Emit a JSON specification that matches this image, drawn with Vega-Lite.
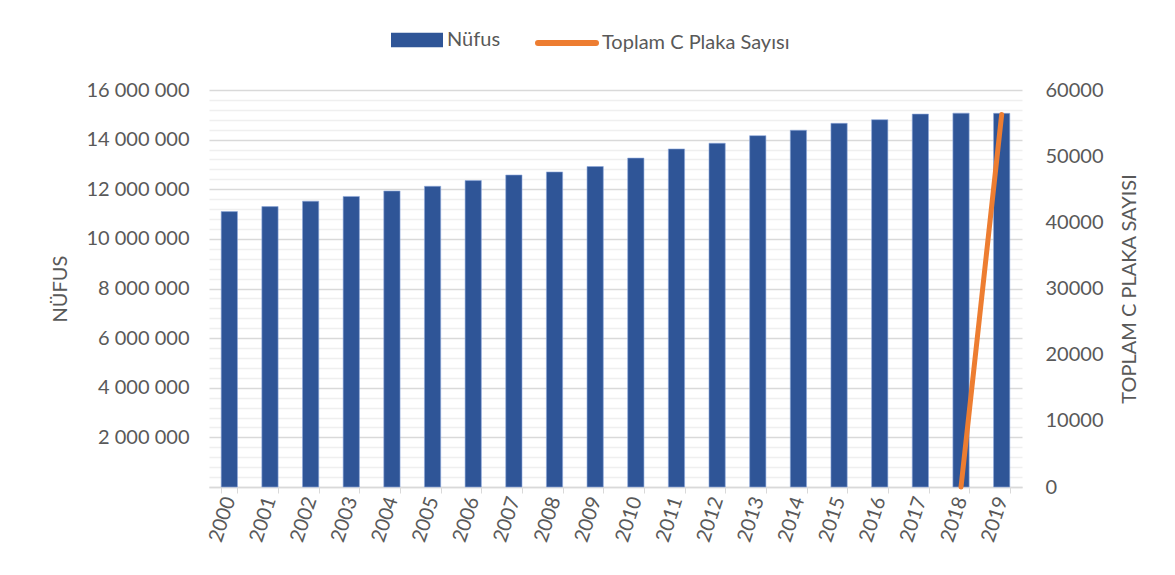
{
  "$schema": "https://vega.github.io/schema/vega-lite/v6.json",
  "autosize": {"type": "none"},
  "width": 813,
  "height": 397,
  "padding": {"left": 209, "top": 90, "right": 152, "bottom": 88},
  "background": "white",
  "config": {
    "font": "Lato",
    "view": {"stroke": null},
    "axis": {"labelFont": "Lato", "titleFont": "Lato", "labelColor": "#595959", "titleColor": "#595959", "labelFontSize": 20, "titleFontSize": 20, "titleFontWeight": "normal"},
    "legend": {"labelFont": "Lato", "labelFontSize": 20, "labelColor": "#595959", "labelLimit": 400}
  },
  "data": {
    "values": [
      {"year": "2000", "nufus": 11100000, "plaka": null},
      {"year": "2001", "nufus": 11300000, "plaka": null},
      {"year": "2002", "nufus": 11520000, "plaka": null},
      {"year": "2003", "nufus": 11710000, "plaka": null},
      {"year": "2004", "nufus": 11930000, "plaka": null},
      {"year": "2005", "nufus": 12120000, "plaka": null},
      {"year": "2006", "nufus": 12350000, "plaka": null},
      {"year": "2007", "nufus": 12573836, "plaka": null},
      {"year": "2008", "nufus": 12697164, "plaka": null},
      {"year": "2009", "nufus": 12915158, "plaka": null},
      {"year": "2010", "nufus": 13255685, "plaka": null},
      {"year": "2011", "nufus": 13624240, "plaka": null},
      {"year": "2012", "nufus": 13854740, "plaka": null},
      {"year": "2013", "nufus": 14160467, "plaka": null},
      {"year": "2014", "nufus": 14377018, "plaka": null},
      {"year": "2015", "nufus": 14657434, "plaka": null},
      {"year": "2016", "nufus": 14804116, "plaka": null},
      {"year": "2017", "nufus": 15029231, "plaka": null},
      {"year": "2018", "nufus": 15067724, "plaka": 0},
      {"year": "2019", "nufus": 15060000, "plaka": 56300}
    ]
  },
  "encoding": {
    "x": {
      "field": "year", "type": "nominal", "sort": null,
      "scale": {"paddingInner": 0.6, "paddingOuter": 0.3},
      "axis": {"title": null, "labelAngle": -72, "tickBand": "extent", "ticks": true, "tickSize": 6, "tickColor": "#d9d9d9", "domainColor": "#d9d9d9", "domainWidth": 1.5, "labelPadding": 4, "grid": false}
    }
  },
  "layer": [
    {
      "mark": {"type": "bar", "stroke": "#8faadc", "strokeWidth": 0.6},
      "encoding": {
        "y": {
          "field": "nufus", "type": "quantitative",
          "scale": {"domain": [0, 16000000], "nice": false, "zero": true},
          "axis": {
            "title": "NÜFUS",
            "titleX": -149, "titleBaseline": "middle",
            "values": [0,400000,800000,1200000,1600000,2000000,2400000,2800000,3200000,3600000,4000000,4400000,4800000,5200000,5600000,6000000,6400000,6800000,7200000,7600000,8000000,8400000,8800000,9200000,9600000,10000000,10400000,10800000,11200000,11600000,12000000,12400000,12800000,13200000,13600000,14000000,14400000,14800000,15200000,15600000,16000000],
            "labelExpr": "datum.value % 2000000 === 0 && datum.value > 0 ? replace(format(datum.value, ',d'), regexp(',', 'g'), ' ') : ''",
            "labelOverlap": false,
            "labelPadding": 20,
            "ticks": false,
            "domain": false,
            "grid": true,
            "gridColor": {"condition": {"test": "datum.value % 2000000 === 0", "value": "#d9d9d9"}, "value": "#efefef"},
            "gridWidth": 1.5
          }
        },
        "fill": {
          "datum": "Nüfus",
          "type": "nominal",
          "scale": {"domain": ["Nüfus"], "range": ["#2f5597"]},
          "legend": {
            "title": null,
            "orient": "none",
            "legendX": 182,
            "legendY": -76,
            "symbolType": "M-1,-0.28H1V0.28H-1Z",
            "symbolSize": 2704,
            "symbolStrokeWidth": 0,
            "labelOffset": 4
          }
        }
      }
    },
    {
      "mark": {"type": "line", "strokeWidth": 5, "strokeCap": "round"},
      "encoding": {
        "y": {
          "field": "plaka", "type": "quantitative",
          "scale": {"domain": [0, 60000], "nice": false},
          "axis": {
            "orient": "right",
            "title": "TOPLAM C PLAKA SAYISI",
            "titleAngle": 270,
            "titleX": 107,
            "titleBaseline": "middle",
            "values": [0, 10000, 20000, 30000, 40000, 50000, 60000],
            "format": "d",
            "labelPadding": 23,
            "ticks": false,
            "domain": false,
            "grid": false
          }
        },
        "stroke": {
          "datum": "Toplam C Plaka Sayısı",
          "type": "nominal",
          "scale": {"domain": ["Toplam C Plaka Sayısı"], "range": ["#ed7d31"]},
          "legend": {
            "title": null,
            "orient": "none",
            "legendX": 326,
            "legendY": -79,
            "symbolType": "stroke",
            "symbolSize": 3364,
            "symbolStrokeWidth": 6,
            "labelOffset": 3,
            "encode": {"symbols": {"update": {"strokeCap": {"value": "round"}}}}
          }
        }
      }
    }
  ],
  "resolve": {"scale": {"y": "independent"}}
}
